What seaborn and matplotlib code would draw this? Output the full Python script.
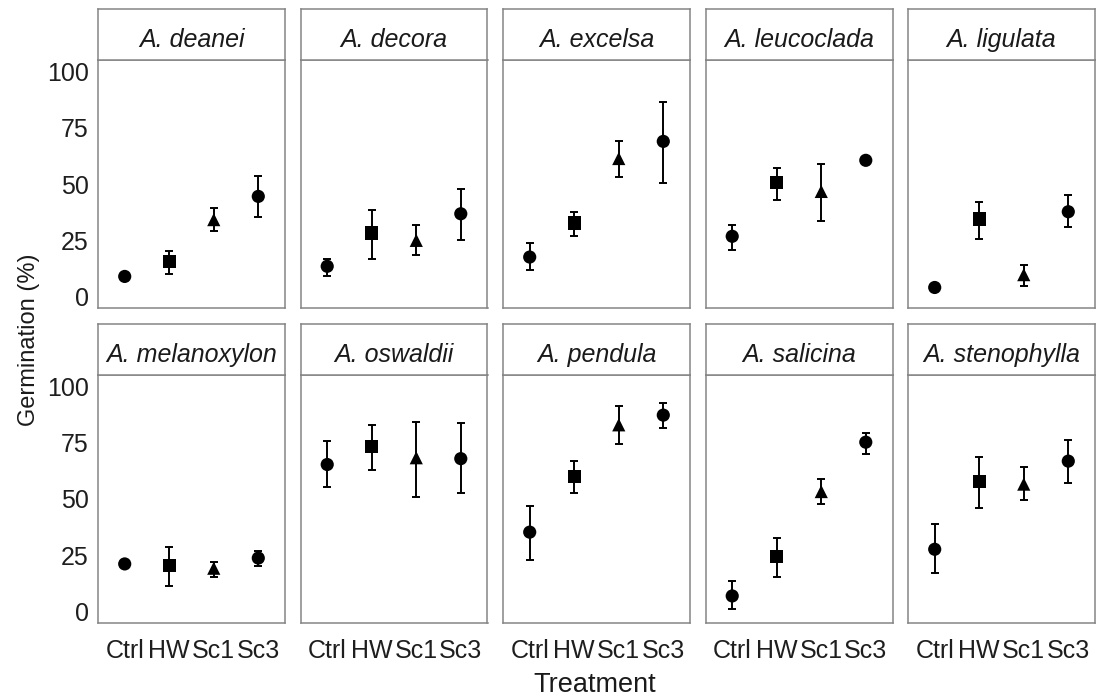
import numpy as np
import pandas as pd
import matplotlib
matplotlib.use("Agg")
import matplotlib.pyplot as plt
import seaborn as sns

species = ["A. deanei", "A. decora", "A. excelsa", "A. leucoclada", "A. ligulata",
           "A. melanoxylon", "A. oswaldii", "A. pendula", "A. salicina", "A. stenophylla"]
treatments = ["Ctrl", "HW", "Sc1", "Sc3"]

# mean germination (%) per species, in treatment order
germ_mean = [[9.0, 15.7, 34.2, 44.5],
             [13.5, 28.3, 25.0, 36.8],
             [17.6, 32.7, 61.3, 68.9],
             [26.8, 50.5, 46.7, 60.5],
             [4.1, 34.5, 9.8, 37.7],
             [21.2, 20.4, 19.3, 23.8],
             [65.3, 73.3, 68.3, 67.9],
             [35.3, 59.8, 82.9, 87.2],
             [7.0, 24.5, 53.3, 75.2],
             [27.7, 57.6, 56.6, 66.8]]
# lower / upper ends of the error bars
germ_lo = [[7.8, 10.1, 29.3, 35.4],
           [9.0, 16.7, 18.3, 25.3],
           [11.7, 26.8, 53.0, 50.5],
           [20.9, 42.8, 33.4, 59.3],
           [3.0, 25.7, 4.6, 30.9],
           [19.5, 11.2, 15.3, 20.4],
           [55.3, 62.8, 51.1, 52.7],
           [22.9, 52.7, 74.5, 81.7],
           [1.4, 15.3, 47.7, 70.1],
           [17.1, 46.1, 49.6, 56.9]]
germ_hi = [[10.2, 20.1, 39.4, 53.7],
           [16.7, 38.6, 32.0, 47.9],
           [23.7, 37.7, 69.1, 86.4],
           [32.0, 57.1, 58.9, 61.7],
           [5.2, 42.0, 14.2, 45.3],
           [22.9, 28.7, 21.9, 27.0],
           [75.9, 82.8, 84.2, 83.5],
           [47.0, 67.0, 91.1, 92.6],
           [13.7, 32.7, 58.7, 79.4],
           [38.7, 68.6, 64.4, 76.0]]

rows = []
for i, sp in enumerate(species):
    for j, tr in enumerate(treatments):
        rows.append({"species": sp, "treatment": tr, "pos": j,
                     "mean": germ_mean[i][j], "lo": germ_lo[i][j], "hi": germ_hi[i][j]})
df = pd.DataFrame(rows)

sns.set_style("white")
plt.rcParams['font.family'] = ['Liberation Sans', 'DejaVu Sans']

W, H = 1097, 698
fig = plt.figure(figsize=(W / 100, H / 100), dpi=100)
border = '#858585'
markers = {"Ctrl": "o", "HW": "s", "Sc1": "^", "Sc3": "o"}

for i, sp in enumerate(species):
    r, c = divmod(i, 5)
    left = 98 + c * 202.5
    top = 60 if r == 0 else 375
    ax = fig.add_axes([left / W, 1 - (top + 248) / H, 187 / W, 248 / H])
    sub = df[df['species'] == sp]

    sns.scatterplot(data=sub, x='pos', y='mean', style='treatment', markers=markers,
                    style_order=treatments, color='black', s=90, linewidth=0,
                    legend=False, ax=ax, zorder=2)
    ax.errorbar(sub['pos'], sub['mean'],
                yerr=[sub['mean'] - sub['lo'], sub['hi'] - sub['mean']],
                fmt='none', ecolor='black', elinewidth=1.4, capsize=3, capthick=1.4, zorder=3)

    ax.set_xlim(-0.6, 3.6)
    ax.set_ylim(-5, 105)
    ax.set_xlabel('')
    ax.set_ylabel('')
    for s in ax.spines.values():
        s.set_color(border)
        s.set_linewidth(1.1)
    ax.tick_params(length=3.5, width=1.1, color='#333333', labelsize=18, labelcolor='#1e1e1e')
    ax.tick_params(axis='x', pad=8)
    ax.tick_params(axis='y', pad=3)
    ax.set_xticks(range(4))
    ax.set_yticks([0, 25, 50, 75, 100])
    if r == 1:
        ax.set_xticklabels(treatments)
    else:
        ax.set_xticklabels([])
        ax.tick_params(axis='x', length=0)
    if c != 0:
        ax.set_yticklabels([])
        ax.tick_params(axis='y', length=0)

    sax = fig.add_axes([left / W, 1 - top / H, 187 / W, 51 / H])
    sax.set_xticks([])
    sax.set_yticks([])
    for s in sax.spines.values():
        s.set_color(border)
        s.set_linewidth(1.1)
    sax.text(0.5, 0.26, sp, ha='center', va='baseline', style='italic',
             fontsize=18, color='#1a1a1a', transform=sax.transAxes)

fig.text(29 / W, 1 - 340 / H, 'Germination (%)', rotation=90, ha='center', va='center',
         fontsize=17, color='#1a1a1a')
fig.text(595 / W, 1 - 685 / H, 'Treatment', ha='center', va='center',
         fontsize=19.5, color='#1a1a1a')

fig.savefig('out.png', dpi=100)
